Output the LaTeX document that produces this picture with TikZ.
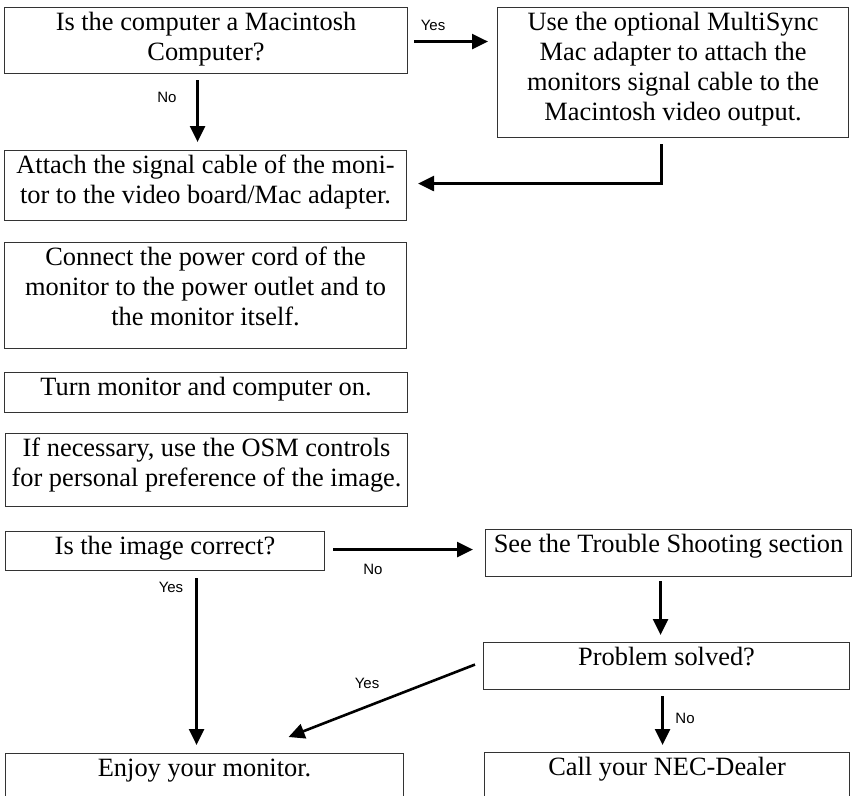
\documentclass[tikz,border=0pt]{standalone}
\usepackage{fontspec}
\setmainfont{Liberation Serif}
\newfontfamily\lblfont{Liberation Sans}
\usetikzlibrary{arrows.meta,calc}
\newcommand{\bxt}[3]{\parbox[c][#2][t]{#1}{\centering\fontsize{26.4}{30}\selectfont\rule{0pt}{23pt}#3\par}}
\begin{document}
\begin{tikzpicture}[x=1pt,y=1pt,
  box/.style={draw=black!80, line width=1.1pt, rectangle, inner sep=0pt, anchor=north west},
  arr/.style={line width=2.6pt, line join=miter, -{Triangle[length=16pt,width=15pt]}},
  lbl/.style={font=\lblfont\fontsize{15}{18}\selectfont, inner sep=0pt}]
\useasboundingbox (0,0) rectangle (856,-795);
\clip (0,0) rectangle (856,-795);
\node[box] (b1) at (4,-7) {\bxt{403pt}{66pt}{Is the computer a Macintosh\\Computer?}};
\node[box] (mac) at (497,-7) {\bxt{351pt}{130pt}{Use the optional MultiSync\\Mac adapter to attach the\\monitors signal cable to the\\Macintosh video output.}};
\node[box] (b2) at (4,-150) {\bxt{402pt}{70pt}{Attach the signal cable of the moni-\\tor to the video board/Mac adapter.}};
\node[box] (connect) at (4,-242) {\bxt{402pt}{106pt}{Connect the power cord of the\\monitor to the power outlet and to\\the monitor itself.}};
\node[box] (turn) at (4,-372) {\bxt{403pt}{40pt}{Turn monitor and computer on.}};
\node[box] (osm) at (5,-433) {\bxt{402pt}{73pt}{If necessary, use the OSM controls\\for personal preference of the image.}};
\node[box] (imgq) at (5,-531) {\bxt{319pt}{39pt}{Is the image correct?}};
\node[box] (trouble) at (485,-529) {\bxt{366pt}{47pt}{See the Trouble Shooting section}};
\node[box] (problem) at (483,-642) {\bxt{366pt}{47pt}{Problem solved?}};
\node[box] (enjoy) at (5,-753) {\bxt{398pt}{70pt}{Enjoy your monitor.}};
\node[box] (nec) at (484,-752) {\bxt{365pt}{70pt}{Call your NEC-Dealer}};
% connectors
\draw[arr] ($(b1.south)+(-8.5,-6)$) -- ($(b2.north)+(-8,8)$);
\draw[arr] ($(b1.east)+(6,-1)$) -- ($(mac.west |- b1.east)+(-9,-1)$);
\draw[arr] ($(mac.south)+(-11.5,-6)$) |- ($(b2.east)+(11,2)$);
\draw[arr] ($(imgq.east)+(8,1.5)$) -- ($(trouble.west |- imgq.east)+(-12,1.5)$);
\draw[arr] ($(imgq.south -| enjoy.north)+(-8,-7)$) -- ($(enjoy.north)+(-8,8)$);
\draw[arr] ($(trouble.south)+(-8,-4)$) -- ($(problem.north -| trouble.south)+(-8,7)$);
\draw[arr] ($(problem.west)+(-8,1.5)$) -- ($(enjoy.north)+(84,16)$);
\draw[arr] ($(problem.south)+(-4,-6)$) -- ($(nec.north -| problem.south)+(-4,7)$);
% labels
\node[lbl] (l1) at (167,-97) {No};
\node[lbl] (l2) at (433,-25) {Yes};
\node[lbl] (l3) at (373,-569) {No};
\node[lbl] (l4) at (171,-587) {Yes};
\node[lbl] (l5) at (367,-683) {Yes};
\node[lbl] (l6) at (685,-718) {No};
\end{tikzpicture}
\end{document}
